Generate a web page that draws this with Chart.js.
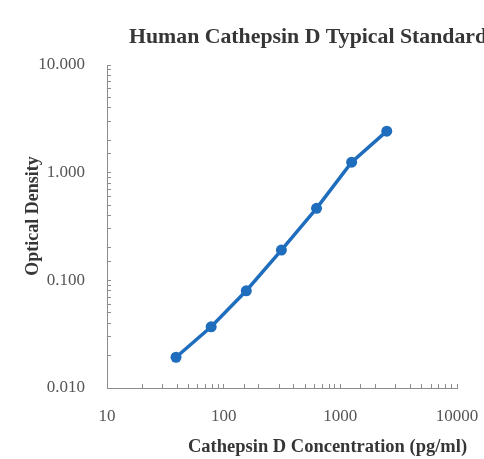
<!DOCTYPE html>
<html><head><meta charset="utf-8">
<script src="https://cdn.jsdelivr.net/npm/chart.js@4.4.1/dist/chart.umd.min.js"></script>
<style>html,body{margin:0;padding:0;background:#fff;overflow:hidden}</style>
</head><body>
<canvas id="c" width="484" height="459"></canvas>
<script>
const concentrations = [39.06, 78.13, 156.25, 312.5, 625, 1250, 2500];
const opticalDensity = [0.0193, 0.037, 0.080, 0.191, 0.466, 1.25, 2.43];
const xTickLabels = [10, 100, 1000, 10000];
const yTickLabels = [0.01, 0.1, 1, 10];
const chartTitle = 'Human Cathepsin D Typical Standard';
const xTitle = 'Cathepsin D Concentration (pg/ml)';
const yTitle = 'Optical Density';

const BLUE = '#1f6dbd';
const AXIS = '#8c8c8c';
const SERIF = '"Liberation Serif", "Times New Roman", serif';

function isLabelled(v, list) {
  return list.some(t => Math.abs(Math.log10(v) - Math.log10(t)) < 1e-6);
}

const titlesPlugin = {
  id: 'titles',
  afterDraw(chart) {
    const ctx = chart.ctx;
    ctx.save();
    ctx.fillStyle = '#363636';
    ctx.textAlign = 'left';
    ctx.textBaseline = 'alphabetic';
    ctx.font = 'bold 21.8px ' + SERIF;
    ctx.fillText(chartTitle, 129, 43);
    ctx.font = 'bold 18.5px ' + SERIF;
    ctx.fillText(xTitle, 188, 452);
    ctx.translate(33, 216);
    ctx.rotate(-Math.PI / 2);
    ctx.textAlign = 'center';
    ctx.textBaseline = 'middle';
    ctx.font = 'bold 18px ' + SERIF;
    ctx.fillText(yTitle, 0, 0);
    ctx.restore();
  }
};

new Chart(document.getElementById('c'), {
  type: 'scatter',
  data: {
    datasets: [{
      data: concentrations.map((x, i) => ({ x: x, y: opticalDensity[i] })),
      showLine: true,
      borderColor: BLUE,
      backgroundColor: BLUE,
      borderWidth: 3.5,
      pointRadius: 5.5,
      pointHoverRadius: 5.5,
      pointBorderWidth: 0,
      tension: 0
    }]
  },
  options: {
    responsive: false,
    animation: false,
    events: [],
    layout: { padding: { top: 65, right: 27, bottom: 0, left: 0 } },
    plugins: { legend: { display: false }, tooltip: { enabled: false }, title: { display: false } },
    scales: {
      x: {
        type: 'logarithmic',
        min: xTickLabels[0],
        max: xTickLabels[xTickLabels.length - 1],
        afterFit(s) { s.height = 71; s.paddingLeft = 0; s.paddingRight = 0; },
        grid: { display: true, drawOnChartArea: false, drawTicks: true, tickLength: -4, tickColor: AXIS, color: AXIS },
        border: { display: true, color: AXIS, width: 1 },
        ticks: {
          autoSkip: false, maxRotation: 0, minRotation: 0, padding: 22,
          color: '#555', font: { family: SERIF, size: 17 },
          callback: v => isLabelled(v, xTickLabels) ? String(Math.round(v)) : ''
        }
      },
      y: {
        type: 'logarithmic',
        min: yTickLabels[0],
        max: yTickLabels[yTickLabels.length - 1],
        afterFit(s) { s.width = 107; s.paddingTop = 0; s.paddingBottom = 0; },
        grid: { display: true, drawOnChartArea: false, drawTicks: true, tickLength: -4, tickColor: AXIS, color: AXIS },
        border: { display: true, color: AXIS, width: 1 },
        ticks: {
          autoSkip: false, padding: 26,
          color: '#555', font: { family: SERIF, size: 17 },
          callback: v => isLabelled(v, yTickLabels) ? Number(v).toFixed(3) : ''
        }
      }
    }
  },
  plugins: [titlesPlugin]
});
</script>
</body></html>
